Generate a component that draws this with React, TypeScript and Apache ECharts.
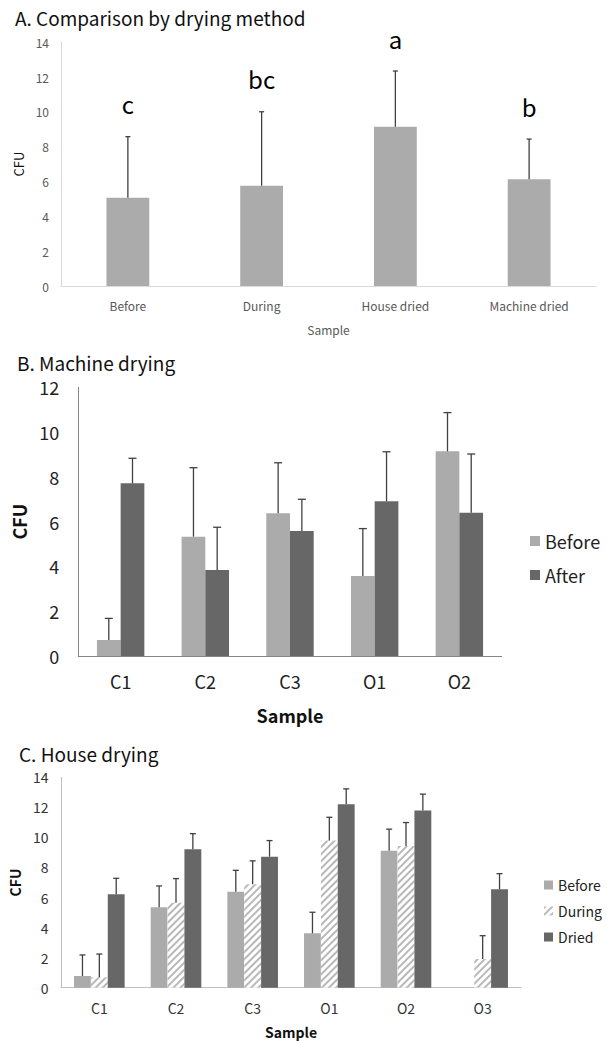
import React, { useEffect, useRef } from "react";
import * as echarts from "echarts";

// ---------- Data ----------
const aCategories = ["Before", "During", "House dried", "Machine dried"];
const aMeans = [5.07, 5.76, 9.15, 6.13];
const aSD = [3.51, 4.25, 3.2, 2.31];
const aLetters = ["c", "bc", "a", "b"];

const bCategories = ["C1", "C2", "C3", "O1", "O2"];
const bBefore = [0.71, 5.33, 6.37, 3.57, 9.14];
const bBeforeSD = [0.97, 3.08, 2.26, 2.12, 1.73];
const bAfter = [7.71, 3.84, 5.58, 6.91, 6.4];
const bAfterSD = [1.12, 1.91, 1.42, 2.21, 2.62];

const cCategories = ["C1", "C2", "C3", "O1", "O2", "O3"];
const cBefore: (number | null)[] = [0.78, 5.35, 6.39, 3.62, 9.12, null];
const cBeforeSD: (number | null)[] = [1.4, 1.42, 1.42, 1.4, 1.43, null];
const cDuring = [0.69, 5.66, 6.88, 9.79, 9.43, 1.91];
const cDuringSD = [1.55, 1.6, 1.56, 1.55, 1.56, 1.55];
const cDried = [6.22, 9.21, 8.72, 12.21, 11.79, 6.55];
const cDriedSD = [1.06, 1.04, 1.07, 1.02, 1.09, 1.04];

const FONT = '"Noto Sans CJK KR", "Noto Sans", sans-serif';
const LIGHT = "#ababab";
const DARK = "#676767";
const ERR = "#404040";

function errSeries(
  axis: number,
  means: (number | null)[],
  sds: (number | null)[],
  pos: number,
  count: number,
  frac: number,
  cap: number,
  letters?: string[]
) {
  const data: number[][] = [];
  means.forEach((m, i) => {
    if (m != null && sds[i] != null) data.push([i, m, sds[i] as number]);
  });
  return {
    type: "custom",
    xAxisIndex: axis,
    yAxisIndex: axis,
    z: 5,
    silent: true,
    data,
    renderItem: (params: any, api: any) => {
      const i = api.value(0);
      const m = api.value(1);
      const sd = api.value(2);
      const base = api.coord([i, m]);
      const top = api.coord([i, m + sd]);
      const band = api.size([1, 0])[0];
      const x = base[0] + (pos - (count - 1) / 2) * frac * band;
      const st = { stroke: ERR, lineWidth: 1.3 };
      const children: any[] = [
        { type: "line", shape: { x1: x, y1: base[1], x2: x, y2: top[1] }, style: st },
        { type: "line", shape: { x1: x - cap, y1: top[1], x2: x + cap, y2: top[1] }, style: st },
      ];
      if (letters) {
        children.push({
          type: "text",
          x,
          y: top[1] - 33,
          style: {
            text: letters[i],
            fontSize: 24,
            fill: "#000",
            align: "center",
            verticalAlign: "middle",
            fontFamily: FONT,
          },
        });
      }
      return { type: "group", children };
    },
  };
}

const hatch = {
  symbol: "rect",
  symbolSize: 1,
  dashArrayX: [1, 0],
  dashArrayY: [1.6, 2.4],
  rotation: -Math.PI / 4,
  color: "#b8b8b8",
};

const titleStyle = { fontSize: 19, fontWeight: "normal", color: "#111", lineHeight: 20, fontFamily: FONT };

export default function App() {
  const ref = useRef<HTMLDivElement>(null);
  useEffect(() => {
    const chart = echarts.init(ref.current!, null, { renderer: "svg" });
    const option: any = {
      animation: false,
      backgroundColor: "#fff",
      textStyle: { fontFamily: FONT },
      title: [
        { text: "A. Comparison by drying method", left: 15, top: 7, padding: 0, textStyle: titleStyle },
        { text: "B. Machine drying", left: 17, top: 352, padding: 0, textStyle: titleStyle },
        { text: "C. House drying", left: 19, top: 743, padding: 0, textStyle: titleStyle },
      ],
      legend: [
        {
          data: ["Before", "After"],
          orient: "vertical",
          left: 530,
          top: 531,
          padding: 0,
          itemWidth: 10,
          itemHeight: 10,
          itemGap: 14,
          icon: "rect",
          textStyle: { fontSize: 18, color: "#222", lineHeight: 20, fontFamily: FONT },
        },
        {
          data: ["Before", "During", "Dried"],
          orient: "vertical",
          left: 544,
          top: 877,
          padding: 0,
          itemWidth: 9,
          itemHeight: 9,
          itemGap: 10,
          icon: "rect",
          textStyle: { fontSize: 14, color: "#222", lineHeight: 16, fontFamily: FONT },
        },
      ],
      grid: [
        { left: 61, top: 42.3, width: 535, height: 243.7 },
        { left: 78.3, top: 387.3, width: 423.4, height: 268.7 },
        { left: 61, top: 777.3, width: 460, height: 210.4 },
      ],
      xAxis: [
        {
          type: "category",
          gridIndex: 0,
          data: aCategories,
          axisLine: { lineStyle: { color: "#d9d9d9" } },
          axisTick: { inside: true, length: 4, lineStyle: { color: "#d9d9d9" } },
          axisLabel: { fontSize: 12, color: "#595959", margin: 13 },
          name: "Sample",
          nameLocation: "middle",
          nameGap: 37,
          nameTextStyle: { fontSize: 12, color: "#595959" },
        },
        {
          type: "category",
          gridIndex: 1,
          data: bCategories,
          axisLine: { lineStyle: { color: "#868686" } },
          axisTick: { inside: true, length: 5, lineStyle: { color: "#868686" } },
          axisLabel: { fontSize: 18, color: "#222", margin: 16 },
          name: "Sample",
          nameLocation: "middle",
          nameGap: 50,
          nameTextStyle: { fontSize: 18, color: "#111", fontWeight: "bold" },
        },
        {
          type: "category",
          gridIndex: 2,
          data: cCategories,
          axisLine: { lineStyle: { color: "#bfbfbf" } },
          axisTick: { inside: true, length: 5, lineStyle: { color: "#bfbfbf" } },
          axisLabel: { fontSize: 14, color: "#333", margin: 13 },
          name: "Sample",
          nameLocation: "middle",
          nameGap: 37,
          nameTextStyle: { fontSize: 14, color: "#111", fontWeight: "bold", lineHeight: 14 },
        },
      ],
      yAxis: [
        {
          type: "value",
          gridIndex: 0,
          min: 0,
          max: 14,
          interval: 2,
          splitLine: { show: false },
          axisLine: { show: true, lineStyle: { color: "#d9d9d9" } },
          axisTick: { show: false },
          axisLabel: { fontSize: 12, color: "#595959", margin: 12 },
          name: "CFU",
          nameLocation: "middle",
          nameGap: 35,
          nameTextStyle: { fontSize: 13, color: "#111" },
        },
        {
          type: "value",
          gridIndex: 1,
          min: 0,
          max: 12,
          interval: 2,
          splitLine: { show: false },
          axisLine: { show: true, lineStyle: { color: "#868686" } },
          axisTick: { show: false },
          axisLabel: { fontSize: 18, color: "#222", margin: 19, lineHeight: 18 },
          name: "CFU",
          nameLocation: "middle",
          nameGap: 47,
          nameTextStyle: { fontSize: 18, color: "#111", fontWeight: "bold" },
        },
        {
          type: "value",
          gridIndex: 2,
          min: 0,
          max: 14,
          interval: 2,
          splitLine: { show: false },
          axisLine: { show: true, lineStyle: { color: "#bfbfbf" } },
          axisTick: { show: false },
          axisLabel: { fontSize: 14, color: "#333", margin: 12.5 },
          name: "CFU",
          nameLocation: "middle",
          nameGap: 34,
          nameTextStyle: { fontSize: 14, color: "#111", fontWeight: "bold" },
        },
      ],
      series: [
        { name: "Method", type: "bar", xAxisIndex: 0, yAxisIndex: 0, data: aMeans, barWidth: "32%", itemStyle: { color: LIGHT } },
        errSeries(0, aMeans, aSD, 0, 1, 0.32, 2.5, aLetters),

        { name: "Before", type: "bar", xAxisIndex: 1, yAxisIndex: 1, data: bBefore, barWidth: "28%", barGap: "0%", itemStyle: { color: LIGHT } },
        { name: "After", type: "bar", xAxisIndex: 1, yAxisIndex: 1, data: bAfter, barWidth: "28%", barGap: "0%", itemStyle: { color: DARK } },
        errSeries(1, bBefore, bBeforeSD, 0, 2, 0.28, 4),
        errSeries(1, bAfter, bAfterSD, 1, 2, 0.28, 4),

        { name: "Before", type: "bar", xAxisIndex: 2, yAxisIndex: 2, data: cBefore.map((v) => (v == null ? "-" : v)), barWidth: "22%", barGap: "0%", itemStyle: { color: LIGHT } },
        { name: "During", type: "bar", xAxisIndex: 2, yAxisIndex: 2, data: cDuring, barWidth: "22%", barGap: "0%", itemStyle: { color: "#ffffff", decal: hatch } },
        { name: "Dried", type: "bar", xAxisIndex: 2, yAxisIndex: 2, data: cDried, barWidth: "22%", barGap: "0%", itemStyle: { color: DARK } },
        errSeries(2, cBefore, cBeforeSD, 0, 3, 0.22, 3),
        errSeries(2, cDuring, cDuringSD, 1, 3, 0.22, 3),
        errSeries(2, cDried, cDriedSD, 2, 3, 0.22, 3),
      ],
    };
    chart.setOption(option);
    return () => chart.dispose();
  }, []);
  return (
    <div
      ref={ref}
      style={{ position: "fixed", left: 0, top: 0, width: 607, height: 1041, background: "#fff" }}
    />
  );
}
